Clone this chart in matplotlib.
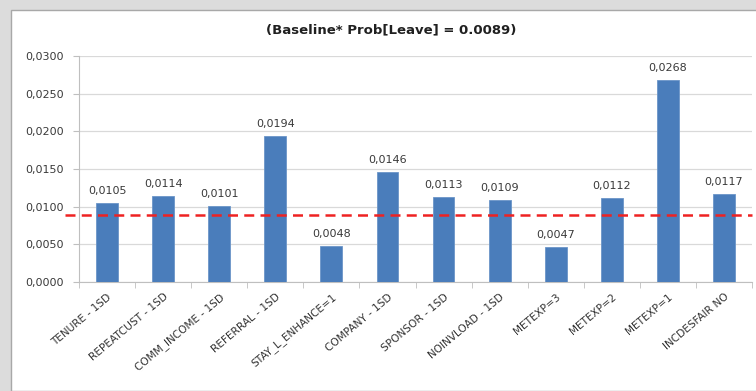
import numpy as np
import matplotlib
matplotlib.use('Agg')
import matplotlib.pyplot as plt
from matplotlib.patches import Rectangle
from matplotlib.ticker import FuncFormatter, MultipleLocator

# 各変数の離脱確率
labels = ["TENURE - 1SD", "REPEATCUST - 1SD", "COMM_INCOME - 1SD", "REFERRAL - 1SD",
          "STAY_L_ENHANCE=1", "COMPANY - 1SD", "SPONSOR - 1SD", "NOINVLOAD - 1SD",
          "METEXP=3", "METEXP=2", "METEXP=1", "INCDESFAIR NO"]
values = [0.0105, 0.0114, 0.0101, 0.0194, 0.0048, 0.0146, 0.0113, 0.0109,
          0.0047, 0.0112, 0.0268, 0.0117]
baseline = 0.0089
title = "(Baseline* Prob[Leave] = 0.0089)"

plt.rcParams['font.family'] = ['DejaVu Sans']

fig = plt.figure(figsize=(7.56, 3.91), dpi=100, facecolor="#dcdcdc")
# 白いパネル
fig.patches.append(Rectangle((11/756, 0), 1.0, 1 - 10/391, transform=fig.transFigure,
                             facecolor="white", edgecolor="#a8a8a8", linewidth=1.0, zorder=-5))

ax = fig.add_axes([79/756, 1 - 282/391, 673/756, 226/391])
ax.set_facecolor("none")
x = np.arange(len(values))
ax.bar(x, values, width=0.39, color="#4a7dbb", edgecolor="#6b95c8", linewidth=0.6, zorder=3)
for xi, v in zip(x, values):
    ax.annotate(f"{v:.4f}".replace(".", ","), (xi, v), xytext=(0, 5), textcoords="offset points",
                ha="center", va="bottom", fontsize=8, color="#3a3a3a")

# 基準線
ax.plot([-0.75, len(values) - 0.5], [baseline, baseline], color="#ee2222", lw=1.8,
        ls=(0, (4, 2.5)), clip_on=False, zorder=4)

ax.set_xlim(-0.5, len(values) - 0.5)
ax.set_ylim(0, 0.03)
ax.yaxis.set_major_locator(MultipleLocator(0.005))
ax.yaxis.set_major_formatter(FuncFormatter(lambda v, p: f"{v:.4f}".replace(".", ",")))
ax.grid(axis="y", color="#d9d9d9", lw=0.9, zorder=0)
ax.set_axisbelow(True)

ax.set_xticks(x)
ax.set_xticklabels(labels, rotation=40, ha="right", rotation_mode="anchor", fontsize=7.6,
                   color="#333333")
ax.set_xticks(np.arange(-0.5, len(values)), minor=True)
ax.tick_params(axis="x", which="major", length=0, pad=7)
ax.tick_params(axis="x", which="minor", length=4, color="#bfbfbf", direction="out")
ax.tick_params(axis="y", labelsize=8, labelcolor="#3a3a3a", length=4, color="#bfbfbf", pad=7)

for s in ["top", "right"]:
    ax.spines[s].set_visible(False)
for s in ["left", "bottom"]:
    ax.spines[s].set_color("#bfbfbf")

fig.text(0.517, 1 - 30/391, title, ha="center", va="center", fontsize=9.5, fontweight="bold",
         color="#202020")

plt.savefig("out.png", dpi=100, facecolor=fig.get_facecolor())
